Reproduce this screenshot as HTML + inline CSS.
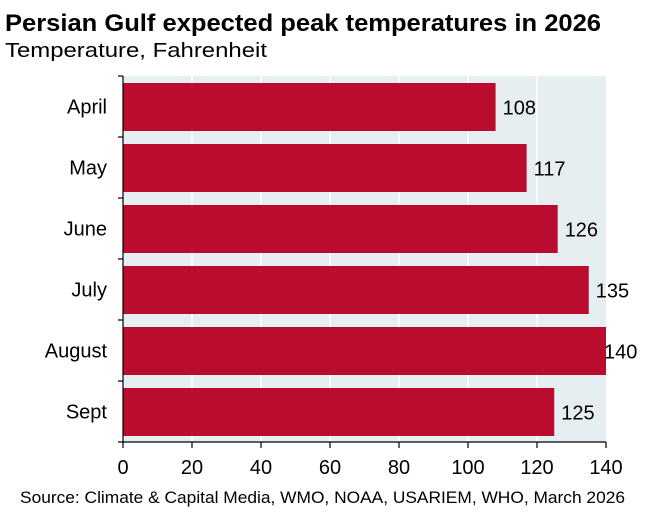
<!DOCTYPE html>
<html><head><meta charset="utf-8"><style>
body{margin:0;background:#fff;font-family:"Liberation Sans",Arial,sans-serif;}
svg text{font-family:"Liberation Sans",Arial,sans-serif;}
</style></head><body>
<svg width="646" height="510" xmlns="http://www.w3.org/2000/svg">
<text x="5" y="31" font-size="24" font-weight="bold" fill="#000" textLength="596" lengthAdjust="spacingAndGlyphs">Persian Gulf expected peak temperatures in 2026</text>
<text x="5" y="57" font-size="20" fill="#000" textLength="262" lengthAdjust="spacingAndGlyphs">Temperature, Fahrenheit</text>
<g id="plot"></g>
<text x="20" y="503" font-size="17" fill="#000" textLength="605" lengthAdjust="spacingAndGlyphs">Source: Climate &amp; Capital Media, WMO, NOAA, USARIEM, WHO, March 2026</text>
</svg>
<script>
const categories=["April","May","June","July","August","Sept"];
const values=[108,117,126,135,140,125];
const xTicks=[0,20,40,60,80,100,120,140];
const NS="http://www.w3.org/2000/svg";
const X0=123,X1=606,Y0=76,Y1=442,XMAX=140;
const band=(Y1-Y0)/categories.length;
const xs=v=>X0+(v/XMAX)*(X1-X0);
const g=document.getElementById('plot');
function mk(t,a){const e=document.createElementNS(NS,t);for(const k in a)e.setAttribute(k,a[k]);g.appendChild(e);return e;}
let bg=mk('rect',{x:X0,y:Y0,width:X1-X0,height:Y1-Y0,fill:'#E6EEF2'});


xTicks.forEach(t=>{
 if(t>0&&t<XMAX){let l=mk('line',{x1:xs(t),x2:xs(t),y1:Y0,y2:Y1,stroke:'#fff','stroke-width':1.5});
 
 }
 let tk=mk('line',{x1:xs(t),x2:xs(t),y1:Y1,y2:Y1+6,stroke:'#000','stroke-width':1.2});
 
 
 let tx=mk('text',{x:xs(t),y:Y1+32,'font-size':20,'text-anchor':'middle',fill:'#000'});
 tx.textContent=t;
 
 
});
categories.forEach((c,i)=>{
 const yb=Y0+i*band;
 let r=mk('rect',{x:X0,y:yb+7,width:xs(values[i])-X0,height:band-13,fill:'#BA0C2F'});
 
 
 let v=mk('text',{x:Math.min(xs(values[i])+7,604),y:yb+band/2+8,'font-size':20,fill:'#000'});
 v.textContent=values[i];
 
 
 let lb=mk('text',{x:107,y:yb+band/2+7,'font-size':20,'text-anchor':'end',fill:'#000'});
 lb.textContent=c;
 
 
});
for(let i=0;i<=categories.length;i++){
 let tk=mk('line',{x1:X0-5,x2:X0,y1:Y0+i*band,y2:Y0+i*band,stroke:'#000','stroke-width':1.2});
 
 
}
let ya=mk('line',{x1:X0,x2:X0,y1:Y0,y2:Y1,stroke:'#000','stroke-width':1.2});


let xa=mk('line',{x1:X0,x2:X1,y1:Y1,y2:Y1,stroke:'#000','stroke-width':1.2});


</script>
</body></html>
